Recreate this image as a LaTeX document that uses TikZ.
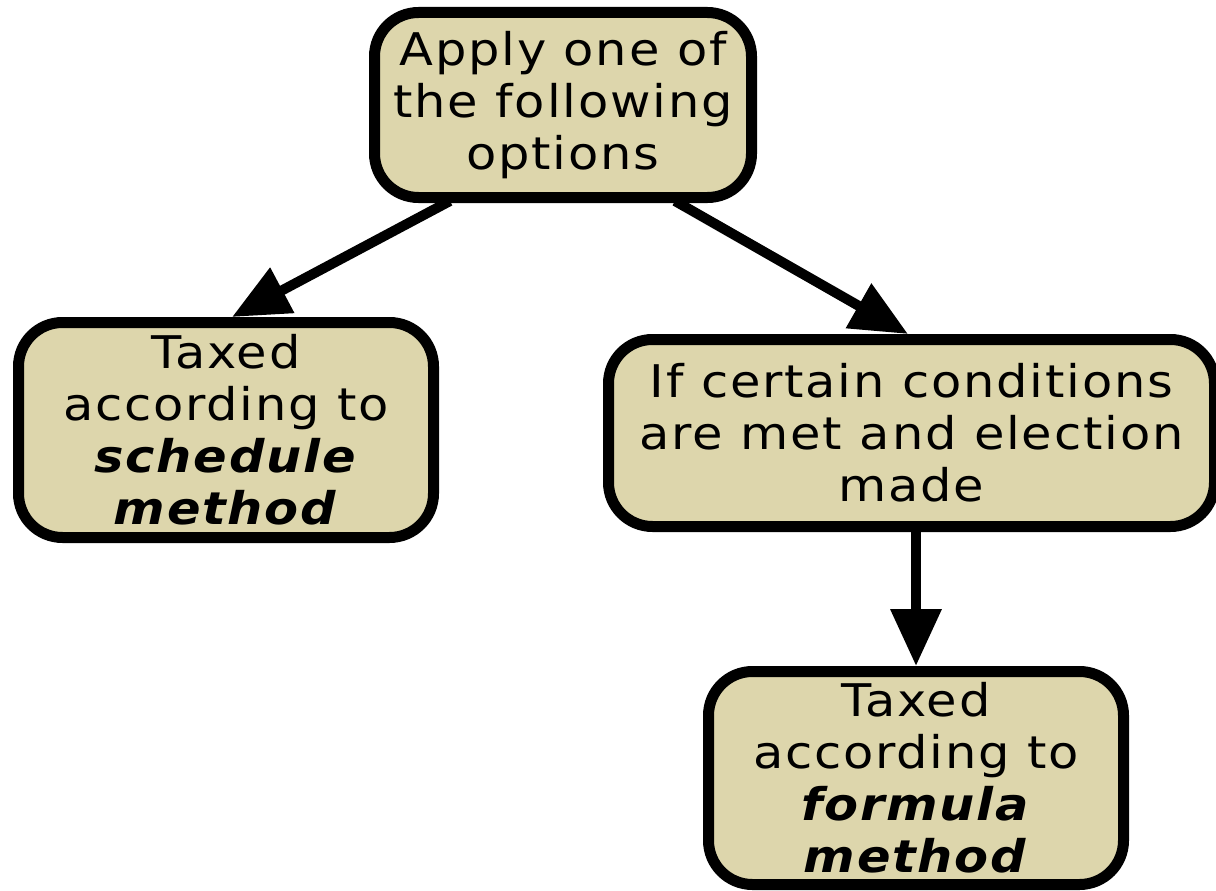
\documentclass[tikz,border=0pt]{standalone}
\usepackage{fontspec}
\setmainfont{DejaVu Sans}[LetterSpace=4, FakeStretch=1.1]
\usetikzlibrary{arrows.meta,calc}
\definecolor{boxfill}{HTML}{DDD6AC}
\tikzset{
  box/.style={draw=black, line width=11pt, fill=boxfill, rounded corners=44pt,
    align=center, inner sep=0pt, font=\fontsize{45}{52}\selectfont},
  conn/.style={line width=10pt, -{Triangle[length=57pt,width=49pt]}}
}
\begin{document}
\begin{tikzpicture}[x=1pt,y=-1pt]
\useasboundingbox (0,0) rectangle (1216,891);
\node[box, minimum width=377pt, minimum height=185pt] (top) at (563,105) {Apply one of\\the following\\options};
\node[box, minimum width=415pt, minimum height=215pt] (left) at (226,430) {Taxed\\according to\\\textbf{\textit{schedule}}\\\textbf{\textit{method}}};
\node[box, minimum width=606pt, minimum height=187pt] (right) at (911.5,433) {If certain conditions\\are met and election\\made};
\node[box, minimum width=415pt, minimum height=213pt] (bottom) at (916,778) {Taxed\\according to\\\textbf{\textit{formula}}\\\textbf{\textit{method}}};
\draw[conn] ($(top.south)+(-113,-2)$) -- ($(left.north)+(6,0)$);
\draw[conn] ($(top.south)+(112,-2)$) -- ($(right.north)+(-3.5,0)$);
\draw[conn] ($(right.south-|bottom.north)+(0,-4)$) -- (bottom.north);
\end{tikzpicture}
\end{document}
